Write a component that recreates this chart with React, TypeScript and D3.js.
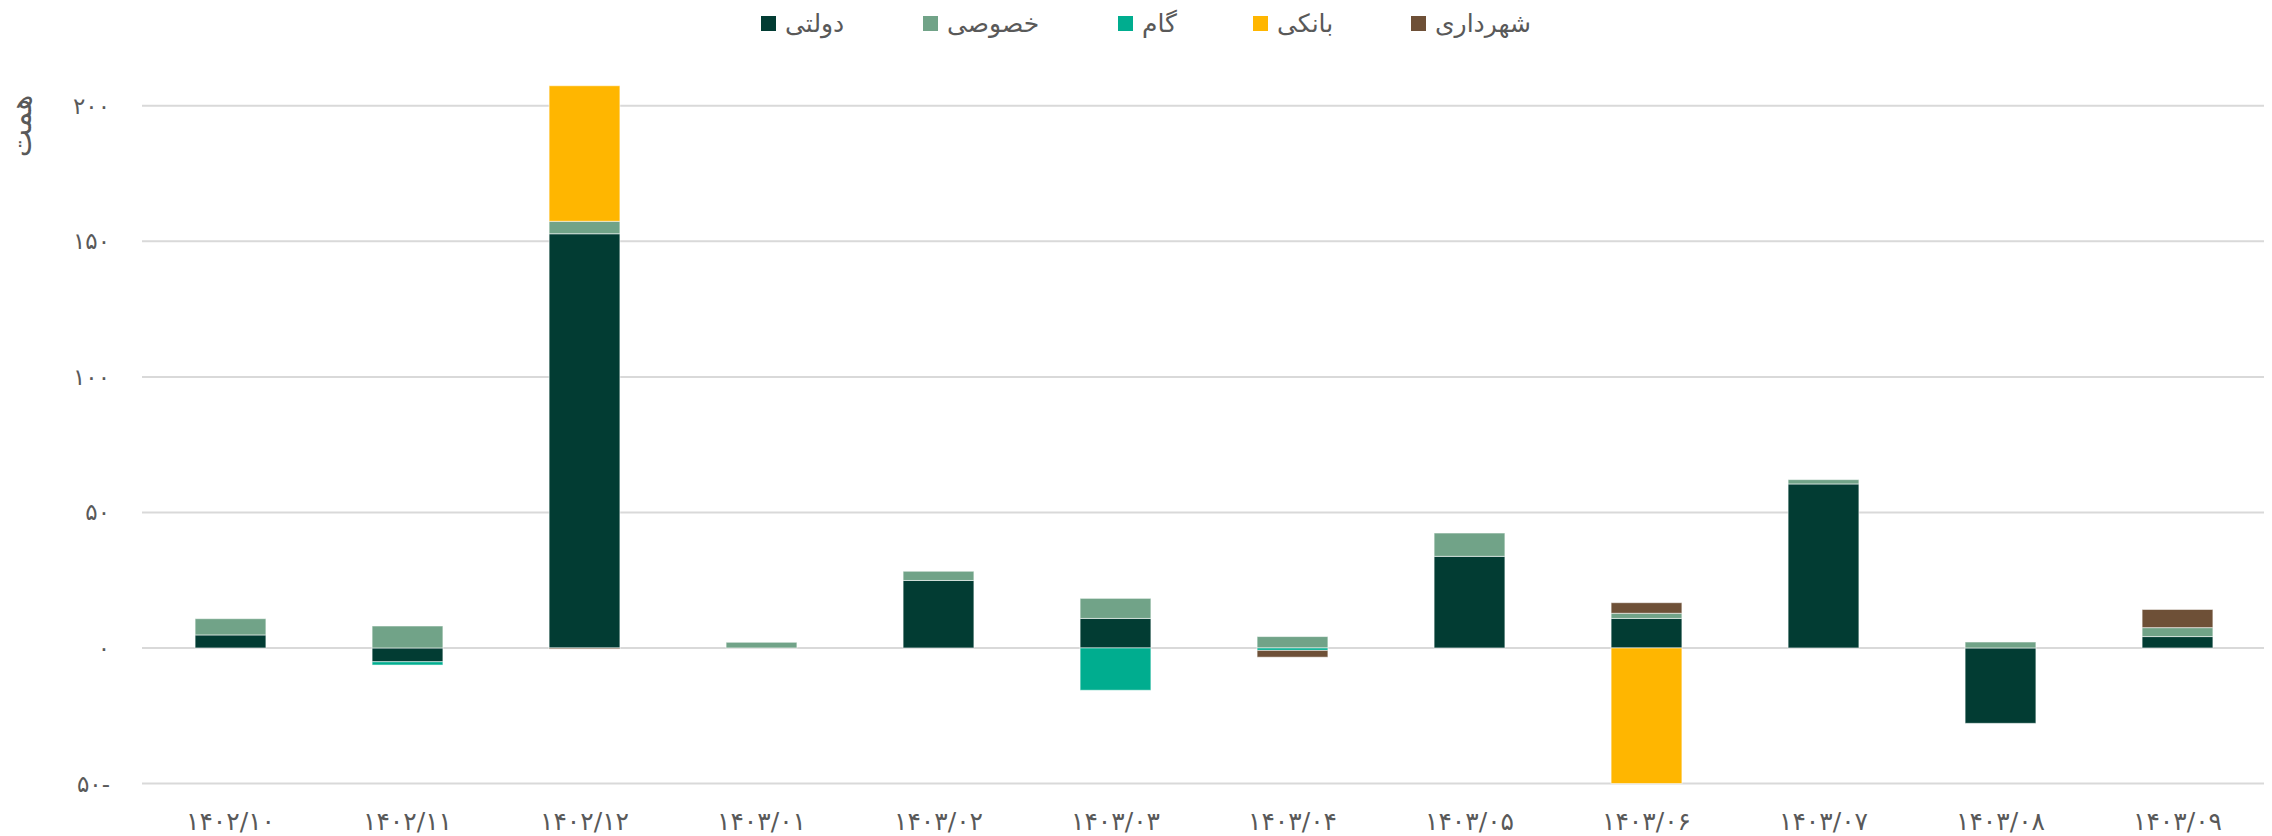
import React from 'react';
import * as d3 from 'd3';

const categories = ['۱۴۰۲/۱۰', '۱۴۰۲/۱۱', '۱۴۰۲/۱۲', '۱۴۰۳/۰۱', '۱۴۰۳/۰۲', '۱۴۰۳/۰۳', '۱۴۰۳/۰۴', '۱۴۰۳/۰۵', '۱۴۰۳/۰۶', '۱۴۰۳/۰۷', '۱۴۰۳/۰۸', '۱۴۰۳/۰۹'];
const dolati = [4.8, -5.1, 152.8, 0, 24.9, 10.9, 0, 33.8, 10.9, 60.5, -27.8, 4.2];
const khosusi = [6.0, 8.1, 4.6, 2.1, 3.4, 7.4, 4.2, 8.6, 1.9, 1.6, 2.2, 3.3];
const gam = [0, -1.2, 0, 0, 0, -15.6, -0.9, 0, 0, 0, 0, 0];
const banki = [0, 0, 50.0, 0, 0, 0, 0, 0, -50, 0, 0, 0];
const shahrdari = [0, 0, -0.4, 0, 0, 0, -2.5, 0, 3.9, 0, 0, 6.7];

const seriesNames = ['دولتی', 'خصوصی', 'گام', 'بانکی', 'شهرداری'];
const seriesValues = [dolati, khosusi, gam, banki, shahrdari];
const seriesColors = ['#023c33', '#71a388', '#00ad8f', '#ffb600', '#6e5037'];
const yTicks = [-50, 0, 50, 100, 150, 200];
const yTitle = 'همت';

const W = 2272;
const H = 836;
const FONT = '"DejaVu Sans", sans-serif';
const TEXT = '#595959';

function toPersian(n: number): string {
  const digits = '۰۱۲۳۴۵۶۷۸۹';
  const s = String(Math.abs(n)).replace(/\d/g, (d) => digits[+d]);
  return n < 0 ? s + '-' : s;
}

export default function App() {
  const keys = seriesNames;
  const rows = categories.map((c, i) => {
    const r: any = { cat: c };
    keys.forEach((k, j) => (r[k] = seriesValues[j][i]));
    return r;
  });
  const stacked = d3.stack<any>().keys(keys).offset(d3.stackOffsetDiverging)(rows);

  const x = d3.scaleBand<string>().domain(categories).range([142, 2266]).paddingInner(0.6).paddingOuter(0.3);
  const y = d3.scaleLinear().domain([-50, 200]).range([783.5, 105.8]);

  const legendX = [761, 923, 1118, 1253, 1411];

  return (
    <svg width={W} height={H} style={{ position: 'absolute', left: 0, top: 0, background: '#fff' }}>
      {yTicks.map((t) => (
        <line key={t} x1={142} x2={2264} y1={y(t)} y2={y(t)} stroke="#d9d9d9" strokeWidth={2} />
      ))}
      {stacked.map((s, si) => (
        <g key={s.key} fill={seriesColors[si]}>
          {s.map((d, i) => {
            const y0 = y(d[0]);
            const y1 = y(d[1]);
            const top = Math.min(y0, y1);
            const h = Math.abs(y1 - y0);
            if (h < 0.01) return null;
            return (
              <rect key={i} x={x(categories[i])} y={top} width={x.bandwidth()} height={h}
                stroke="#ffffff" strokeOpacity={0.55} strokeWidth={1} />
            );
          })}
        </g>
      ))}
      {yTicks.map((t) => (
        <text key={t} x={110} y={y(t)} dy="0.35em" textAnchor="end" fontFamily={FONT} fontSize={23} fill={TEXT}>
          {toPersian(t)}
        </text>
      ))}
      {categories.map((c) => (
        <text key={c} x={(x(c) as number) + x.bandwidth() / 2} y={821} dy="0.35em" textAnchor="middle"
          fontFamily={FONT} fontSize={25} fill={TEXT}>
          {c}
        </text>
      ))}
      <text transform="translate(20,126) rotate(-90)" textAnchor="middle" dy="0.35em" fontFamily={FONT} fontSize={30} fill={TEXT}>
        {yTitle}
      </text>
      {seriesNames.map((n, i) => (
        <g key={n}>
          <rect x={legendX[i]} y={16} width={15} height={15} fill={seriesColors[i]} />
          <text x={legendX[i] + 24} y={23.5} dy="0.35em" textAnchor="start" fontFamily={FONT} fontSize={25} fill={TEXT}>
            {n}
          </text>
        </g>
      ))}
    </svg>
  );
}
